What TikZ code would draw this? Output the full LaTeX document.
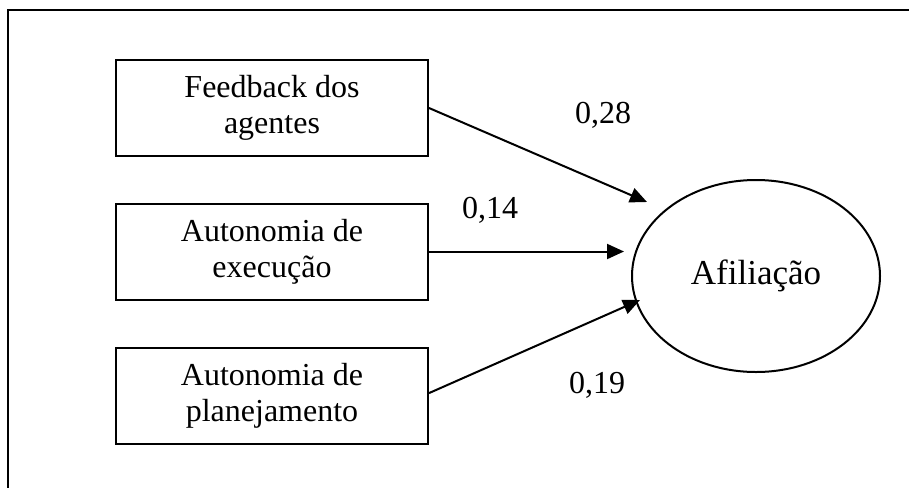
\documentclass[tikz,border=0pt]{standalone}
\usepackage{fontspec}
\setmainfont{Liberation Serif}
\usetikzlibrary{shapes.geometric,arrows.meta}
\begin{document}
\begin{tikzpicture}[x=0.5pt,y=-0.5pt,
  every node/.style={font=\fontsize{16}{18}\selectfont},
  varbox/.style={draw,line width=1pt,minimum width=156pt,minimum height=48pt,align=center,inner sep=0pt},
  latent/.style={draw,ellipse,line width=1pt,minimum width=124pt,minimum height=96pt,inner sep=0pt,font=\fontsize{17.5}{20}\selectfont},
  path/.style={line width=1pt,-{Triangle[length=8.5pt,width=7.5pt]}},
  coef/.style={anchor=base,inner sep=0pt}]
\useasboundingbox (0,0) rectangle (909,487);
\draw[line width=1pt] (8,10) rectangle (940,520);
\node[varbox] (fb) at (272,108) {Feedback dos\\agentes};
\node[varbox] (ae) at (272,251.5) {Autonomia de\\execução};
\node[varbox] (ap) at (272,395.5) {Autonomia de\\planejamento};
\node[latent] (af) at (756,276) {\raisebox{-5pt}{Afiliação}};
\coordinate (t1) at (647,202);
\coordinate (t2) at (624,251.5);
\coordinate (t3) at (640,300);
\draw[path] (fb.east) -- (t1);
\draw[path] (ae.east) -- (t2);
\draw[path] ([yshift=1.2pt]ap.east) -- (t3);
\node[coef] (c1) at (603,123) {0,28};
\node[coef] (c2) at (490,218) {0,14};
\node[coef] (c3) at (597,393) {0,19};
\end{tikzpicture}
\end{document}
